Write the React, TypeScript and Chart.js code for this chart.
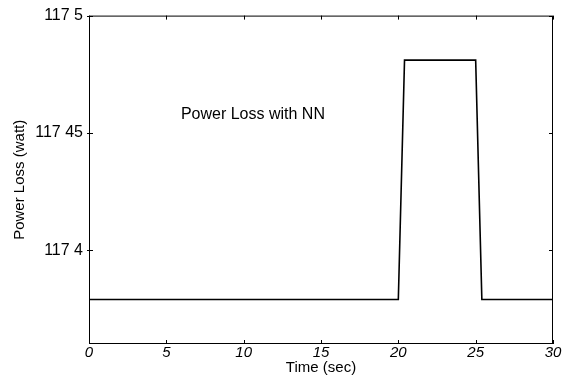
import React, { useEffect, useRef } from "react";
import { Chart, registerables } from "chart.js";

Chart.register(...registerables);

// ---- data ----
const timeSec = [0, 20, 20.4, 25, 25.4, 30];
const powerLossWatt = [117.379, 117.379, 117.481, 117.481, 117.379, 117.379];

const xTickValues = [0, 5, 10, 15, 20, 25, 30];
const xTickLabels = ["0", "5", "10", "15", "20", "25", "30"];
const yTickValues = [117.4, 117.45, 117.5];
const yTickLabels = ["117 4", "117 45", "117 5"];

const xRange = [0, 30];
const yRange = [117.36, 117.5];

const annotationText = "Power Loss with NN";
const annotationAt = [10.6, 117.458];
const xTitle = "Time (sec)";
const yTitle = "Power Loss (watt)";

const FONT = "'Liberation Sans', Arial, Helvetica, sans-serif";

const framePlugin = {
  id: "frame",
  afterDatasetsDraw(chart: any) {
    const { ctx, chartArea, scales } = chart;
    const { left, right, top, bottom } = chartArea;
    ctx.save();
    ctx.strokeStyle = "#000";
    ctx.lineWidth = 1;
    ctx.strokeRect(left + 0.5, top + 0.5, right - left - 1, bottom - top - 1);
    // inward tick marks
    ctx.beginPath();
    xTickValues.forEach((v) => {
      const px = Math.round(scales.x.getPixelForValue(v)) + 0.5;
      ctx.moveTo(px, bottom);
      ctx.lineTo(px, bottom - 4);
      ctx.moveTo(px, top);
      ctx.lineTo(px, top + 4);
    });
    yTickValues.forEach((v) => {
      const py = Math.round(scales.y.getPixelForValue(v)) + 0.5;
      ctx.moveTo(left - 2, py);
      ctx.lineTo(left + 4, py);
      ctx.moveTo(right, py);
      ctx.lineTo(right - 4, py);
    });
    ctx.stroke();
    // annotation text
    ctx.fillStyle = "#000";
    ctx.font = `16px ${FONT}`;
    ctx.textAlign = "center";
    ctx.textBaseline = "middle";
    ctx.fillText(
      annotationText,
      scales.x.getPixelForValue(annotationAt[0]),
      scales.y.getPixelForValue(annotationAt[1])
    );
    ctx.restore();
  },
};

export default function App() {
  const canvasRef = useRef<HTMLCanvasElement | null>(null);

  useEffect(() => {
    const canvas = canvasRef.current;
    if (!canvas) return;
    const chart = new Chart(canvas, {
      type: "line",
      data: {
        datasets: [
          {
            data: timeSec.map((t, i) => ({ x: t, y: powerLossWatt[i] })),
            borderColor: "#000",
            borderWidth: 1.6,
            pointRadius: 0,
            tension: 0,
            fill: false,
          },
        ],
      },
      options: {
        responsive: false,
        animation: false,
        devicePixelRatio: 1,
        layout: { padding: { top: 15, right: 16, bottom: 0, left: 0 } },
        plugins: {
          legend: { display: false },
          tooltip: { enabled: false },
        },
        scales: {
          x: {
            type: "linear",
            min: xRange[0],
            max: xRange[1],
            afterBuildTicks: (s: any) => {
              s.ticks = xTickValues.map((v) => ({ value: v }));
            },
            afterFit: (s: any) => {
              s.height = 44;
            },
            grid: { display: false, drawTicks: false },
            border: { display: false },
            ticks: {
              color: "#000",
              padding: 0,
              maxRotation: 0,
              autoSkip: false,
              font: { family: FONT, size: 15, style: "italic" },
              callback: (_v: any, i: number) => xTickLabels[i],
            },
            title: {
              display: true,
              text: xTitle,
              color: "#000",
              font: { family: FONT, size: 15 },
              padding: { top: 0, bottom: 11 },
            },
          },
          y: {
            type: "linear",
            min: yRange[0],
            max: yRange[1],
            afterBuildTicks: (s: any) => {
              s.ticks = yTickValues.map((v) => ({ value: v }));
            },
            afterFit: (s: any) => {
              s.width = 89;
            },
            grid: { display: false, drawTicks: false },
            border: { display: false },
            ticks: {
              color: "#000",
              padding: 6,
              autoSkip: false,
              font: { family: FONT, size: 16 },
              callback: (_v: any, i: number) => yTickLabels[i],
            },
            title: {
              display: true,
              text: yTitle,
              color: "#000",
              font: { family: FONT, size: 15 },
              padding: { top: 11, bottom: 0 },
            },
          },
        },
      },
      plugins: [framePlugin],
    } as any);
    return () => chart.destroy();
  }, []);

  return (
    <div
      style={{
        position: "fixed",
        left: 0,
        top: 0,
        width: 569,
        height: 388,
        background: "#fff",
      }}
    >
      <canvas
        ref={canvasRef}
        width={569}
        height={388}
        style={{ display: "block", width: 569, height: 388 }}
      />
    </div>
  );
}
